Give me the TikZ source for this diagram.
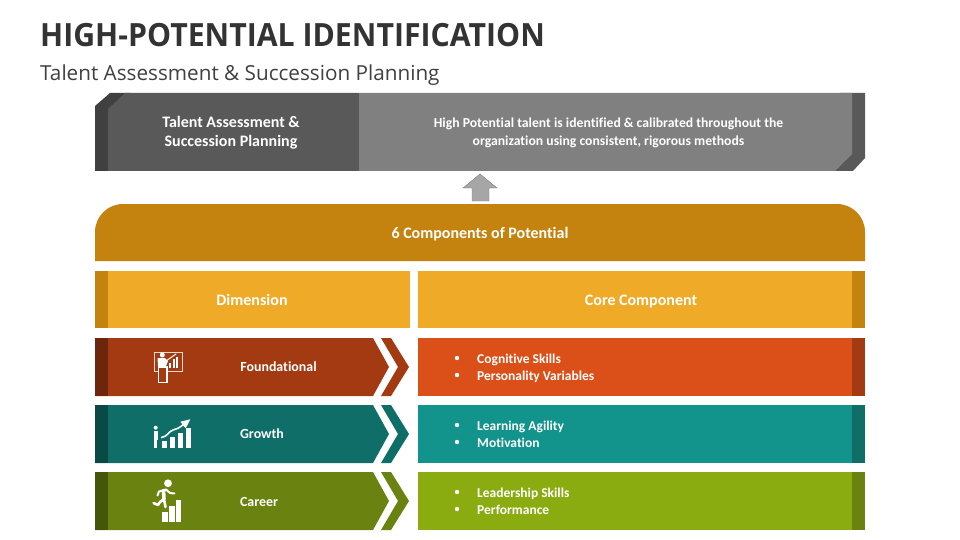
\documentclass[tikz,border=0pt]{standalone}
\usepackage{fontspec}
\setmainfont[Ligatures=CommonOff]{Carlito}
\newfontfamily\titlefont[FakeStretch=0.945]{Open Sans}
\newfontfamily\subtitlefont{Open Sans}
\definecolor{headdark}{HTML}{C4820E}
\definecolor{headlight}{HTML}{EFAB27}
\definecolor{orangedark}{HTML}{A33A12}
\definecolor{orangedeep}{HTML}{6C260B}
\definecolor{orangelight}{HTML}{DB4F19}
\definecolor{tealdark}{HTML}{0F6E68}
\definecolor{tealdeep}{HTML}{0A4A46}
\definecolor{teallight}{HTML}{12938B}
\definecolor{greendark}{HTML}{6A820F}
\definecolor{greendeep}{HTML}{45550A}
\definecolor{greenlight}{HTML}{8AAC10}
\begin{document}
\begin{tikzpicture}[x=1pt, y=-1pt,
	label/.style={font=\fontsize{16}{19}\selectfont\bfseries, text=white, align=center},
	headlabel/.style={label, anchor=base},
	rowlabel/.style={label, anchor=base, font=\fontsize{13.9}{16}\selectfont\bfseries},
	bullets/.style={font=\fontsize{13.5}{17}\selectfont\bfseries, text=white, anchor=base west, inner sep=0pt},
	dot/.style={circle, fill=white, inner sep=0pt, minimum size=4.4pt},
	iconline/.style={draw=white, line cap=round, line join=round}]
	\useasboundingbox (0,0) rectangle (960,540);

	%title
	\node[anchor=west, inner sep=0pt, font=\titlefont\fontsize{32}{38}\selectfont\bfseries, text=black!80] (title) at (40,35) {HIGH-POTENTIAL IDENTIFICATION};
	\node[anchor=west, inner sep=0pt, font=\subtitlefont\fontsize{20.7}{24}\selectfont, text=black!75] (subtitle) at (40,75) {Talent Assessment \& Succession Planning};

	%top band
	\fill[color=black!75] (95,106) -- (110,93) -- (130,93) -- (130,171) -- (95,171) -- cycle;
	\fill[color=black!65] (840,93) -- (865,93) -- (865,158) -- (853,171) -- (835,171) -- cycle;
	\fill[color=black!65] (108,109) -- (125,93) -- (359,93) -- (359,171) -- (108,171) -- cycle;
	\fill[color=black!50] (359,93) -- (852,93) -- (852,154) -- (835,171) -- (359,171) -- cycle;
	\node[label] (talent) at (231,132.5) {Talent Assessment \&\\Succession Planning};
	\node[label, font=\fontsize{13.7}{18}\selectfont\bfseries] (method) at (608.5,132.5) {High Potential talent is identified \& calibrated throughout the\\organization using consistent, rigorous methods};

	%up arrow
	\draw[fill=black!35, draw=black!50] (480,174) -- (463,188) -- (472,188) -- (472,201) -- (489,201) -- (489,188) -- (497,188) -- cycle;

	%header
	\fill[color=headdark] (95,261) [rounded corners=28pt] -- (95,204) -- (865,204) [sharp corners] -- (865,261) -- cycle;
	\node[headlabel] (head) at (480,238) {6 Components of Potential};

	\fill[color=headlight] (95,271) rectangle (410,328);
	\fill[color=headdark] (95,271) rectangle (108,328);
	\fill[color=headlight] (418,271) rectangle (865,328);
	\fill[color=headdark] (852,271) rectangle (865,328);
	\node[headlabel] (dimension) at (252,305) {Dimension};
	\node[headlabel] (core) at (641,305) {Core Component};

	%rows
	\fill[color=orangedark] (95,338) -- (373,338) -- (389,367) -- (373,396) -- (95,396) -- cycle;
	\fill[color=orangedark] (381,338) -- (391,338) -- (409,367) -- (391,396) -- (381,396) -- (398,367) -- cycle;
	\fill[color=orangedeep] (95,338) rectangle (108,396);
	\fill[color=orangelight] (418,338) rectangle (865,396);
	\fill[color=orangedark] (852,338) rectangle (865,396);
	\node[rowlabel] (foundational) at (278.5,371) {Foundational};

	\fill[color=tealdark] (95,405) -- (373,405) -- (389,434) -- (373,463) -- (95,463) -- cycle;
	\fill[color=tealdark] (381,405) -- (391,405) -- (409,434) -- (391,463) -- (381,463) -- (398,434) -- cycle;
	\fill[color=tealdeep] (95,405) rectangle (108,463);
	\fill[color=teallight] (418,405) rectangle (865,463);
	\fill[color=tealdark] (852,405) rectangle (865,463);
	\node[rowlabel] (growth) at (262,438) {Growth};

	\fill[color=greendark] (95,472) -- (373,472) -- (389,501) -- (373,530) -- (95,530) -- cycle;
	\fill[color=greendark] (381,472) -- (391,472) -- (409,501) -- (391,530) -- (381,530) -- (398,501) -- cycle;
	\fill[color=greendeep] (95,472) rectangle (108,530);
	\fill[color=greenlight] (418,472) rectangle (865,530);
	\fill[color=greendark] (852,472) rectangle (865,530);
	\node[rowlabel] (career) at (259,506) {Career};

	%bullets
	\node[dot] (b1) at (457,358) {};
	\node[dot] (b2) at (457,375) {};
	\node[dot] (b3) at (457,425) {};
	\node[dot] (b4) at (457,442) {};
	\node[dot] (b5) at (457,492) {};
	\node[dot] (b6) at (457,509) {};
	\node[bullets] (cognitive) at (477,363) {Cognitive Skills};
	\node[bullets] (personality) at (477,380) {Personality Variables};
	\node[bullets] (learning) at (477,430) {Learning Agility};
	\node[bullets] (motivation) at (477,447) {Motivation};
	\node[bullets] (leadership) at (477,497) {Leadership Skills};
	\node[bullets] (performance) at (477,514) {Performance};

	%icon presenter
	\draw[draw=white!80!orangedark, line width=1pt] (154,352) rectangle (182,371.5);
	\fill[white] (162.3,355) circle (2.5pt);
	\fill[white] (157.5,358) -- (165,358) -- (168,361) -- (166,366) -- (158,366) -- cycle;
	\draw[iconline, line width=1pt] (166,361) -- (176,354);
	\fill[white] (169,362.5) rectangle (171,368);
	\fill[white] (172.5,359) rectangle (174.5,368);
	\fill[white] (176,356.5) rectangle (178,368);
	\draw[draw=white, fill=orangedark, line width=1.4pt] (158.5,367) rectangle (166.8,382.5);

	%icon growth
	\fill[white] (155.7,427.7) circle (2pt);
	\fill[white] (153.6,430.5) rectangle (157.8,440);
	\fill[white] (154.3,440) rectangle (157.2,448.3);
	\fill[white] (162,441) rectangle (166.7,448.3);
	\fill[white] (170,436.7) rectangle (174.7,448.3);
	\fill[white] (178.3,432.7) rectangle (183,448.3);
	\fill[white] (186,428.3) rectangle (190.7,448.3);
	\draw[iconline, line width=1.6pt] (161.5,437.5) .. controls (167,437) and (169,431) .. (173,430) .. controls (176,429) and (178,429) .. (184,424);
	\fill[white] (190.3,419.3) -- (180.3,421.7) -- (185.7,428.3) -- cycle;

	%icon runner
	\fill[white] (168,483.3) circle (3.9pt);
	\draw[iconline, line width=2pt] (157.5,495.5) -- (159,491.5) -- (166,489.5) -- (170,493) -- (174.5,493.5);
	\draw[iconline, line width=3.6pt] (163.5,490.5) -- (164,499);
	\draw[iconline, line width=2.6pt] (164,499) -- (160,502) -- (158,505) -- (153.5,503);
	\draw[iconline, line width=2.6pt] (164,499) -- (165.5,507);

	\fill[white] (162,512) rectangle (168,522);
	\fill[white] (169,506) rectangle (174.7,522);
	\fill[white] (175.7,500) rectangle (181.3,522);
\end{tikzpicture}
\end{document}
